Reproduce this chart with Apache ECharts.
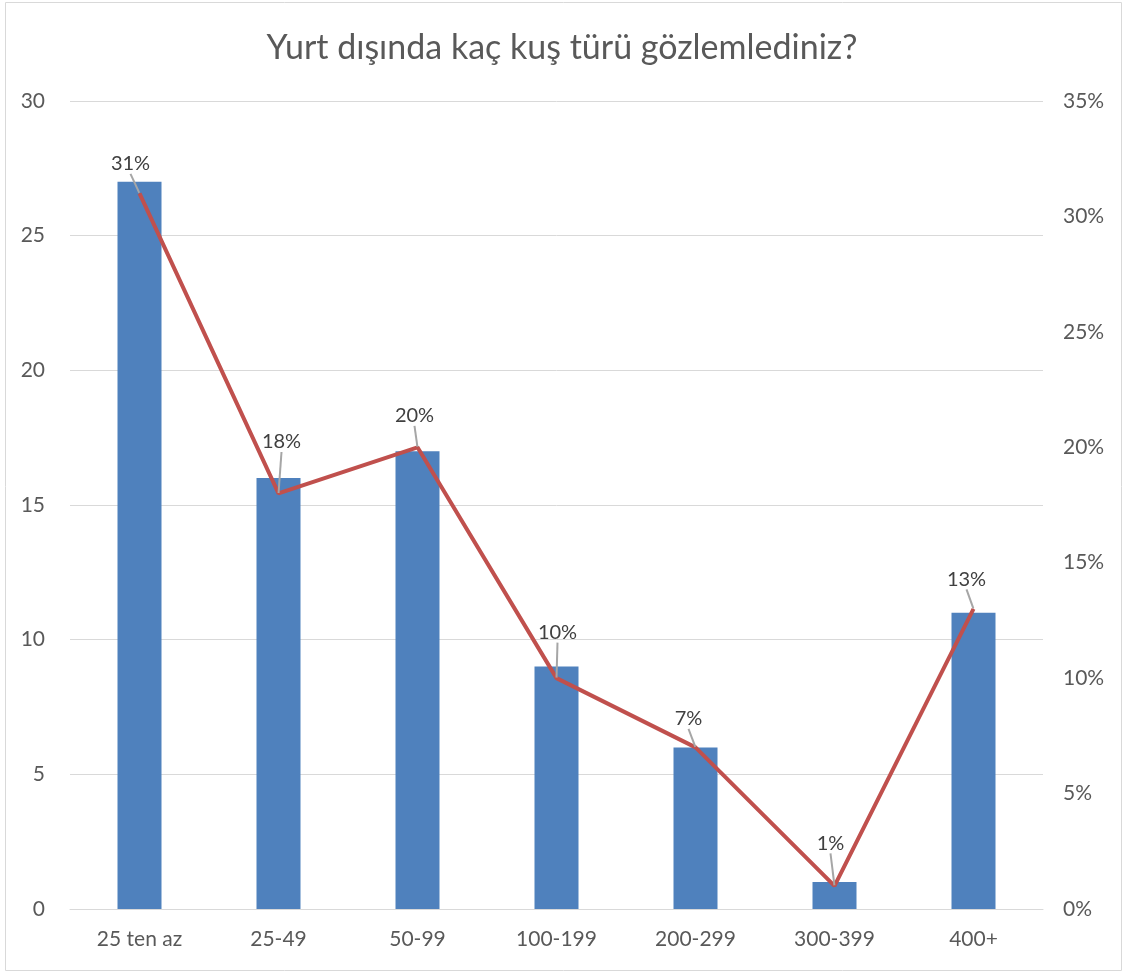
<!DOCTYPE html>
<html>
<head>
<meta charset="utf-8">
<script src="https://cdn.jsdelivr.net/npm/echarts@6/dist/echarts.min.js"></script>
<style>
  html, body { margin: 0; padding: 0; background: #fff; }
  #chart { width: 1124px; height: 974px; }
</style>
</head>
<body>
<div id="chart"></div>
<script>
const categories = ['25 ten az', '25-49', '50-99', '100-199', '200-299', '300-399', '400+']
const counts = [27, 16, 17, 9, 6, 1, 11]
const percents = [31, 18, 20, 10, 7, 1, 13]

// label nudges so the leader lines look like the original
const labelShift = [[-9, -14], [3, -36], [-3, -16], [1, -30], [-7, -13], [-4, -27], [-7, -14]]

const textColor = '#595959'
const font = 'Lato, Open Sans, sans-serif'

const chart = echarts.init(document.getElementById('chart'))

chart.setOption({
  animation: false,
  textStyle: { fontFamily: font },
  title: {
    text: 'Yurt dışında kaç kuş türü gözlemlediniz?',
    left: 'center',
    top: 26,
    textStyle: { fontSize: 34, fontWeight: 'normal', color: textColor, fontFamily: font }
  },
  graphic: [{
    type: 'rect',
    shape: { x: 5.5, y: 2.5, width: 1116, height: 968 },
    style: { fill: 'none', stroke: '#d9d9d9', lineWidth: 1 }
  }],
  grid: { left: 70, right: 81, top: 101, bottom: 65 },
  xAxis: {
    type: 'category',
    data: categories,
    axisTick: { show: false },
    axisLine: { lineStyle: { color: '#d9d9d9' } },
    axisLabel: { color: textColor, fontSize: 21, margin: 20 }
  },
  yAxis: [{
    type: 'value',
    min: 0,
    max: 30,
    interval: 5,
    axisLine: { show: false },
    axisTick: { show: false },
    splitLine: { lineStyle: { color: '#d9d9d9' } },
    axisLabel: { color: textColor, fontSize: 21, margin: 25 }
  }, {
    type: 'value',
    min: 0,
    max: 35,
    interval: 5,
    axisLine: { show: false },
    axisTick: { show: false },
    splitLine: { show: false },
    axisLabel: { color: textColor, fontSize: 21, margin: 20, formatter: '{value}%' }
  }],
  series: [{
    type: 'bar',
    data: counts,
    barWidth: 44,
    itemStyle: { color: '#4f81bd' }
  }, {
    type: 'line',
    yAxisIndex: 1,
    data: percents,
    symbol: 'circle',
    symbolSize: 1,
    itemStyle: { color: '#c0504d' },
    lineStyle: { color: '#c0504d', width: 4 },
    z: 3,
    label: {
      show: true,
      position: 'top',
      distance: 5,
      formatter: '{c}%',
      color: '#404040',
      fontSize: 20
    },
    labelLayout: p => ({ dx: labelShift[p.dataIndex][0], dy: labelShift[p.dataIndex][1] }),
    labelLine: { show: true, lineStyle: { color: '#a6a6a6', width: 2 } }
  }]
})
</script>
</body>
</html>
